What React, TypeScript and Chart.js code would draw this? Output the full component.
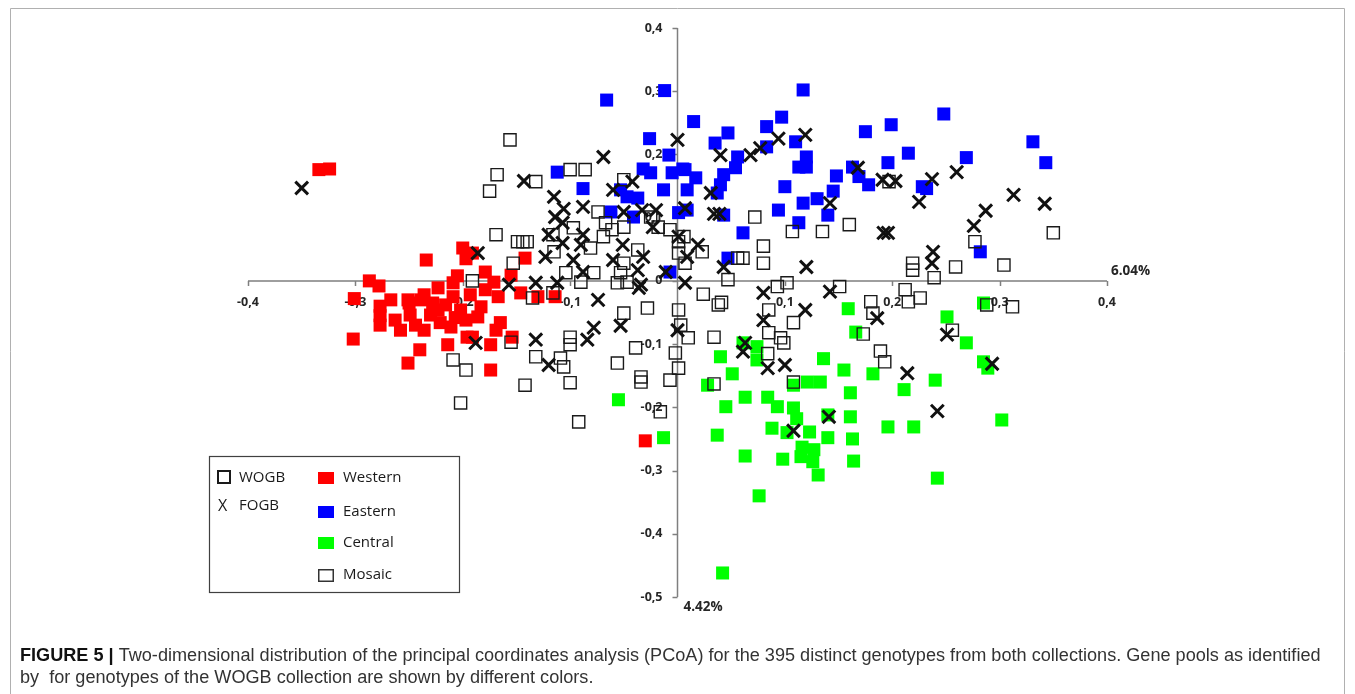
import React, { useEffect, useRef } from "react";
import { Chart, registerables } from "chart.js";

Chart.register(...registerables);

const W = 1355;
const H = 694;

// ---------- data (PCoA coordinates, axis 1 / axis 2) ----------
const western: [number, number][] = [
  [-0.334, 0.176], [-0.324, 0.177], [-0.2, 0.052], [-0.197, 0.035], [-0.234, 0.033], [-0.205, 0.008],
  [-0.287, 0.0], [-0.278, -0.008], [-0.191, 0.044], [-0.179, 0.014], [-0.171, -0.002], [-0.155, 0.009],
  [-0.142, 0.036], [-0.301, -0.028], [-0.277, -0.04], [-0.277, -0.055], [-0.277, -0.07], [-0.302, -0.092],
  [-0.258, -0.078], [-0.25, -0.035], [-0.239, -0.03], [-0.236, -0.078], [-0.223, -0.046], [-0.221, -0.066],
  [-0.211, -0.073], [-0.202, -0.046], [-0.196, -0.089], [-0.214, -0.101], [-0.24, -0.109], [-0.251, -0.13],
  [-0.228, -0.035], [-0.209, -0.025], [-0.223, -0.011], [-0.209, -0.003], [-0.236, -0.022], [-0.251, -0.03],
  [-0.146, -0.019], [-0.13, -0.025], [-0.114, -0.025], [-0.183, -0.041], [-0.186, -0.057], [-0.165, -0.066],
  [-0.169, -0.078], [-0.154, -0.089], [-0.174, -0.101], [-0.174, -0.141], [-0.191, -0.089], [-0.167, -0.025],
  [-0.03, -0.253], [-0.193, -0.022], [-0.216, -0.038], [-0.23, -0.054], [-0.249, -0.054], [-0.263, -0.062],
  [-0.197, -0.062], [-0.179, -0.014], [-0.267, -0.03], [-0.244, -0.07], [-0.207, -0.058],
];

const eastern: [number, number][] = [
  [-0.066, 0.286], [-0.012, 0.301], [-0.026, 0.225], [-0.008, 0.199], [-0.112, 0.172], [-0.088, 0.146],
  [-0.032, 0.177], [-0.025, 0.171], [-0.013, 0.144], [-0.005, 0.171], [0.005, 0.177], [-0.053, 0.144],
  [-0.047, 0.133], [-0.037, 0.131], [-0.062, 0.109], [-0.041, 0.101], [0.001, 0.108], [-0.007, 0.014],
  [0.117, 0.302], [0.015, 0.252], [0.047, 0.234], [0.035, 0.218], [0.083, 0.244], [0.097, 0.259],
  [0.056, 0.196], [0.054, 0.179], [0.043, 0.168], [0.04, 0.152], [0.037, 0.139], [0.007, 0.176],
  [0.017, 0.163], [0.009, 0.144], [0.083, 0.212], [0.11, 0.22], [0.12, 0.196], [0.113, 0.18],
  [0.12, 0.18], [0.1, 0.149], [0.094, 0.112], [0.117, 0.123], [0.113, 0.092], [0.13, 0.13],
  [0.14, 0.104], [0.145, 0.142], [0.148, 0.166], [0.175, 0.236], [0.199, 0.247], [0.196, 0.187],
  [0.163, 0.18], [0.169, 0.165], [0.178, 0.152], [0.043, 0.104], [0.061, 0.076], [0.047, 0.036],
  [0.009, 0.112], [0.248, 0.264], [0.215, 0.202], [0.269, 0.195], [0.228, 0.149], [0.232, 0.146],
  [0.331, 0.22], [0.343, 0.187], [0.282, 0.046],
];

const central: [number, number][] = [
  [0.159, -0.044], [0.166, -0.081], [0.04, -0.12], [0.061, -0.098], [0.074, -0.104], [0.074, -0.125],
  [0.051, -0.147], [0.028, -0.165], [0.063, -0.184], [0.045, -0.199], [0.084, -0.184], [0.093, -0.199],
  [0.108, -0.201], [0.108, -0.165], [0.121, -0.16], [0.133, -0.16], [0.136, -0.123], [0.155, -0.141],
  [0.161, -0.177], [0.182, -0.147], [0.111, -0.218], [0.14, -0.212], [0.161, -0.215], [0.196, -0.231],
  [0.037, -0.244], [0.088, -0.233], [0.102, -0.24], [0.123, -0.239], [0.14, -0.248], [0.163, -0.25],
  [0.063, -0.277], [0.098, -0.282], [0.116, -0.263], [0.127, -0.267], [0.115, -0.278], [0.126, -0.286],
  [0.164, -0.285], [0.131, -0.307], [-0.013, -0.248], [0.076, -0.34], [0.042, -0.462], [-0.055, -0.188],
  [0.285, -0.035], [0.251, -0.057], [0.269, -0.098], [0.285, -0.128], [0.289, -0.138], [0.24, -0.157],
  [0.211, -0.172], [0.22, -0.231], [0.302, -0.22], [0.242, -0.312],
];

const mosaic: [number, number][] = [
  [-0.191, 0.0], [-0.209, -0.125], [-0.197, -0.141], [-0.202, -0.193], [-0.156, 0.223], [-0.168, 0.168],
  [-0.175, 0.142], [-0.132, 0.157], [-0.1, 0.176], [-0.086, 0.176], [-0.169, 0.073], [-0.149, 0.062],
  [-0.144, 0.062], [-0.14, 0.062], [-0.074, 0.109], [-0.067, 0.092], [-0.05, 0.085], [-0.061, 0.081],
  [-0.069, 0.07], [-0.116, 0.073], [-0.115, 0.046], [-0.097, 0.084], [-0.081, 0.052], [-0.037, 0.049],
  [-0.05, 0.028], [-0.053, 0.013], [-0.078, 0.013], [-0.104, 0.013], [-0.153, 0.028], [-0.056, -0.003],
  [-0.018, 0.085], [-0.007, 0.081], [-0.025, 0.101], [0.001, 0.044], [0.001, 0.062], [-0.05, 0.16],
  [-0.028, -0.043], [-0.05, -0.051], [0.001, -0.046], [-0.047, -0.002], [-0.1, -0.089], [-0.1, -0.101],
  [-0.132, -0.12], [-0.109, -0.122], [-0.106, -0.136], [-0.142, -0.165], [-0.1, -0.161], [-0.039, -0.106],
  [-0.056, -0.13], [-0.034, -0.152], [-0.034, -0.16], [-0.002, -0.114], [0.001, -0.138], [-0.007, -0.157],
  [-0.092, -0.223], [-0.016, -0.207], [-0.155, -0.097], [-0.09, -0.002], [-0.116, -0.019], [-0.135, -0.027],
  [0.072, 0.101], [0.107, 0.078], [0.135, 0.078], [0.16, 0.089], [0.08, 0.055], [0.061, 0.036],
  [0.056, 0.036], [0.08, 0.028], [0.047, 0.002], [0.023, 0.046], [0.006, 0.07], [0.007, 0.028],
  [0.102, -0.003], [0.151, -0.009], [0.197, 0.157], [0.024, -0.021], [0.038, -0.038], [0.041, -0.034],
  [0.093, -0.009], [0.085, -0.046], [0.108, -0.066], [0.085, -0.082], [0.096, -0.09], [0.099, -0.098],
  [0.034, -0.089], [0.01, -0.09], [0.003, -0.07], [0.084, -0.115], [0.034, -0.163], [0.108, -0.16],
  [0.18, -0.033], [0.182, -0.051], [0.173, -0.084], [0.189, -0.111], [0.193, -0.128], [0.277, 0.062],
  [0.35, 0.076], [0.304, 0.025], [0.259, 0.022], [0.219, 0.028], [0.219, 0.017], [0.239, 0.005],
  [0.212, -0.014], [0.215, -0.033], [0.226, -0.027], [0.288, -0.038], [0.312, -0.041], [0.256, -0.078],
];

const fogb: [number, number][] = [
  [-0.35, 0.147], [-0.186, 0.044], [-0.188, -0.098], [0.0, 0.223], [-0.069, 0.196], [-0.143, 0.158],
  [-0.115, 0.133], [-0.06, 0.144], [-0.042, 0.157], [-0.088, 0.117], [-0.106, 0.114], [-0.114, 0.101],
  [-0.107, 0.092], [-0.05, 0.109], [-0.033, 0.112], [-0.02, 0.112], [-0.023, 0.085], [-0.12, 0.073],
  [-0.107, 0.06], [-0.088, 0.073], [-0.09, 0.057], [-0.123, 0.038], [-0.097, 0.033], [-0.051, 0.057],
  [-0.06, 0.033], [-0.032, 0.038], [-0.037, 0.017], [-0.088, 0.014], [-0.011, 0.014], [0.001, 0.07],
  [-0.132, -0.003], [-0.112, -0.003], [-0.034, -0.006], [-0.157, -0.006], [-0.074, -0.03], [-0.036, -0.011],
  [-0.078, -0.074], [-0.053, -0.071], [-0.084, -0.093], [-0.132, -0.093], [-0.12, -0.133], [0.0, -0.078],
  [0.119, 0.231], [0.094, 0.225], [0.077, 0.21], [0.068, 0.199], [0.04, 0.199], [0.031, 0.139],
  [0.007, 0.115], [0.034, 0.106], [0.039, 0.106], [0.019, 0.057], [0.009, 0.038], [0.043, 0.022],
  [0.12, 0.022], [0.007, -0.003], [0.142, 0.123], [0.168, 0.179], [0.191, 0.16], [0.192, 0.076],
  [0.196, 0.076], [0.08, -0.019], [0.142, -0.017], [0.119, -0.046], [0.08, -0.062], [0.186, -0.059],
  [0.063, -0.098], [0.061, -0.112], [0.084, -0.138], [0.1, -0.133], [0.141, -0.215], [0.108, -0.237],
  [0.203, 0.158], [0.237, 0.161], [0.26, 0.172], [0.225, 0.125], [0.313, 0.136], [0.342, 0.122],
  [0.287, 0.111], [0.276, 0.087], [0.238, 0.046], [0.237, 0.028], [0.251, -0.085], [0.293, -0.131],
  [0.214, -0.146], [0.242, -0.206],
];

// ---------- ticks & texts ----------
const xTickValues = [-0.4, -0.3, -0.2, -0.1, 0.1, 0.2, 0.3, 0.4];
const xTickLabels = ["-0,4", "-0,3", "-0,2", "-0,1", "0,1", "0,2", "0,3", "0,4"];
const yTickValues = [0.4, 0.3, 0.2, 0.1, 0, -0.1, -0.2, -0.3, -0.4, -0.5];
const yTickLabels = ["0,4", "0,3", "0,2", "0,1", "0", "-0,1", "-0,2", "-0,3", "-0,4", "-0,5"];
const xAxisTitle = "6.04%";
const yAxisTitle = "4.42%";
const legendCollections = ["WOGB", "FOGB"];
const legendPools = ["Western", "Eastern", "Central", "Mosaic"];
const poolColors = ["#ff0000", "#0000ff", "#00ff00", "#ffffff"];
const captionBold = "FIGURE 5 |";
const captionLine1 =
  " Two-dimensional distribution of the principal coordinates analysis (PCoA) for the 395 distinct genotypes from both collections. Gene pools as identified";
const captionLine2 = "by  for genotypes of the WOGB collection are shown by different colors.";

const toPts = (arr: [number, number][]) => arr.map(([x, y]) => ({ x, y }));

const decor = {
  id: "decor",
  beforeDraw(chart: any) {
    const ctx = chart.ctx;
    ctx.save();
    ctx.fillStyle = "#ffffff";
    ctx.fillRect(0, 0, chart.width, chart.height);
    ctx.restore();
  },
  beforeDatasetsDraw(chart: any) {
    const { ctx, scales } = chart;
    const xs = scales.x;
    const ys = scales.y;
    const x0 = xs.getPixelForValue(0);
    const y0 = ys.getPixelForValue(0);
    ctx.save();
    ctx.strokeStyle = "#7f7f7f";
    ctx.lineWidth = 1.5;
    ctx.beginPath();
    ctx.moveTo(xs.getPixelForValue(-0.4), y0);
    ctx.lineTo(xs.getPixelForValue(0.4), y0);
    ctx.moveTo(x0, ys.getPixelForValue(0.4));
    ctx.lineTo(x0, ys.getPixelForValue(-0.5));
    xTickValues.forEach((v) => {
      const px = Math.round(xs.getPixelForValue(v)) + 0.5;
      ctx.moveTo(px, y0);
      ctx.lineTo(px, y0 + 5);
    });
    yTickValues.forEach((v) => {
      const py = Math.round(ys.getPixelForValue(v)) + 0.5;
      ctx.moveTo(x0 - 5, py);
      ctx.lineTo(x0, py);
    });
    ctx.stroke();

    ctx.fillStyle = "#262626";
    ctx.font = "bold 12.5px 'Open Sans'";
    ctx.textBaseline = "middle";
    ctx.textAlign = "center";
    xTickValues.forEach((v, i) => {
      ctx.fillText(xTickLabels[i], xs.getPixelForValue(v), y0 + 22);
    });
    ctx.textAlign = "right";
    yTickValues.forEach((v, i) => {
      ctx.fillText(yTickLabels[i], x0 - 15, ys.getPixelForValue(v));
    });
    ctx.font = "bold 13.5px 'Open Sans'";
    ctx.textAlign = "left";
    ctx.fillText(xAxisTitle, xs.getPixelForValue(0.4) + 4, y0 - 10);
    ctx.fillText(yAxisTitle, x0 + 6, ys.getPixelForValue(-0.5) + 10);
    ctx.restore();
  },
  afterDraw(chart: any) {
    const ctx = chart.ctx;
    ctx.save();
    // figure frame
    ctx.strokeStyle = "#b0b0b0";
    ctx.lineWidth = 1;
    ctx.beginPath();
    ctx.moveTo(10.5, H);
    ctx.lineTo(10.5, 8.5);
    ctx.lineTo(1344.5, 8.5);
    ctx.lineTo(1344.5, H);
    ctx.stroke();

    // legend box
    ctx.strokeStyle = "#404040";
    ctx.lineWidth = 1.2;
    ctx.strokeRect(209.5, 456.5, 250, 136);
    ctx.fillStyle = "#1a1a1a";
    ctx.font = "15px 'Open Sans'";
    ctx.textBaseline = "middle";
    ctx.textAlign = "left";
    // collections
    ctx.lineWidth = 2;
    ctx.strokeStyle = "#1a1a1a";
    ctx.strokeRect(218, 471, 12, 12);
    ctx.fillText(legendCollections[0], 239, 478);
    ctx.font = "16px 'Open Sans'";
    ctx.fillText("X", 218, 506);
    ctx.font = "15px 'Open Sans'";
    ctx.fillText(legendCollections[1], 239, 506);
    // pools
    const rowY = [478, 512, 543, 575];
    legendPools.forEach((name, i) => {
      const cy = rowY[i];
      if (i < 3) {
        ctx.fillStyle = poolColors[i];
        ctx.fillRect(318, cy - 6, 16, 12);
      } else {
        ctx.strokeStyle = "#333333";
        ctx.lineWidth = 1.5;
        ctx.strokeRect(318.75, cy - 5.25, 14.5, 11.5);
      }
      ctx.fillStyle = "#1a1a1a";
      ctx.fillText(name, 343, cy);
    });

    // caption
    const base = 16;
    ctx.font = `bold ${base}px 'Liberation Sans'`;
    const wb = ctx.measureText(captionBold).width;
    ctx.font = `${base}px 'Liberation Sans'`;
    const wr = ctx.measureText(captionLine1).width;
    const size = (base * 1302) / (wb + wr);
    ctx.textBaseline = "alphabetic";
    ctx.font = `bold ${size}px 'Liberation Sans'`;
    ctx.fillStyle = "#111111";
    ctx.fillText(captionBold, 20, 661);
    const wb2 = ctx.measureText(captionBold).width;
    ctx.font = `${size}px 'Liberation Sans'`;
    ctx.fillStyle = "#333333";
    ctx.fillText(captionLine1, 20 + wb2, 661);
    ctx.fillText(captionLine2, 20, 683);
    ctx.restore();
  },
};

export default function App() {
  const ref = useRef<HTMLCanvasElement | null>(null);
  useEffect(() => {
    if (!ref.current) return;
    const chart = new Chart(ref.current, {
      type: "scatter",
      data: {
        datasets: [
          {
            label: "FOGB",
            data: toPts(fogb),
            pointStyle: "crossRot",
            pointRadius: 9,
            borderColor: "#111111",
            backgroundColor: "#111111",
            borderWidth: 3,
            clip: false,
          } as any,
          {
            label: "Mosaic",
            data: toPts(mosaic),
            pointStyle: "rect",
            pointRadius: 8.6,
            borderColor: "#1a1a1a",
            backgroundColor: "rgba(0,0,0,0)",
            borderWidth: 1.4,
            clip: false,
          },
          {
            label: "Western",
            data: toPts(western),
            pointStyle: "rect",
            pointRadius: 9.2,
            backgroundColor: poolColors[0],
            borderWidth: 0,
            clip: false,
          },
          {
            label: "Eastern",
            data: toPts(eastern),
            pointStyle: "rect",
            pointRadius: 9.2,
            backgroundColor: poolColors[1],
            borderWidth: 0,
            clip: false,
          },
          {
            label: "Central",
            data: toPts(central),
            pointStyle: "rect",
            pointRadius: 9.2,
            backgroundColor: poolColors[2],
            borderWidth: 0,
            clip: false,
          },
        ],
      },
      options: {
        responsive: false,
        animation: false,
        devicePixelRatio: 1,
        events: [],
        layout: { padding: { left: 248, right: 248, top: 28, bottom: 97 } },
        scales: {
          x: { type: "linear", min: -0.4, max: 0.4, display: false },
          y: { type: "linear", min: -0.5, max: 0.4, display: false },
        },
        plugins: { legend: { display: false }, tooltip: { enabled: false } },
      },
      plugins: [decor],
    });
    return () => chart.destroy();
  }, []);

  return (
    <div style={{ position: "absolute", left: 0, top: 0, width: W, height: H }}>
      <canvas ref={ref} width={W} height={H} style={{ display: "block", width: W, height: H }} />
    </div>
  );
}
